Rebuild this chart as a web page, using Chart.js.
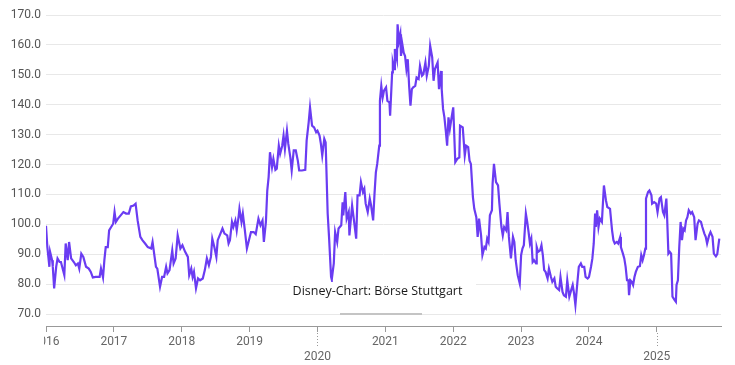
<!DOCTYPE html>
<html>
<head>
<meta charset="utf-8">
<script src="https://cdn.jsdelivr.net/npm/chart.js@4/dist/chart.umd.min.js"></script>
<style>
html,body{margin:0;padding:0;background:#fff;}
#wrap{width:735px;height:365px;}
</style>
</head>
<body>
<div id="wrap"><canvas id="c" width="735" height="365"></canvas></div>
<script>
// Decimal-year dates and prices (EUR)
const dates = [
2016.00,2016.02,2016.05,2016.06,2016.09,2016.10,2016.12,2016.15,2016.17,2016.20,2016.22,2016.27,2016.29,2016.32,2016.34,2016.37,2016.41,2016.44,2016.47,2016.49,2016.52,2016.55,2016.59,2016.63,2016.66,2016.69,2016.73,2016.79,2016.81,2016.84,2016.86,2016.88,2016.91,2016.93,2016.96,2016.99,
2017.01,2017.03,2017.06,2017.10,2017.14,2017.18,2017.22,2017.25,2017.29,2017.32,2017.35,2017.39,2017.42,2017.46,2017.50,2017.55,2017.57,2017.60,2017.62,2017.64,2017.68,2017.71,2017.74,2017.77,2017.79,2017.82,2017.86,2017.88,2017.91,2017.94,2017.98,
2018.01,2018.05,2018.09,2018.11,2018.14,2018.16,2018.18,2018.21,2018.24,2018.27,2018.31,2018.34,2018.37,2018.40,2018.43,2018.45,2018.48,2018.51,2018.53,2018.57,2018.60,2018.63,2018.67,2018.69,2018.71,2018.74,2018.76,2018.79,2018.81,2018.84,2018.85,2018.88,2018.90,2018.93,2018.96,2018.99,
2019.02,2019.06,2019.09,2019.13,2019.16,2019.19,2019.21,2019.24,2019.26,2019.28,2019.30,2019.33,2019.35,2019.38,2019.40,2019.43,2019.45,2019.48,2019.50,2019.52,2019.55,2019.57,2019.60,2019.62,2019.65,2019.68,2019.71,2019.73,2019.77,2019.82,2019.84,2019.87,2019.89,2019.92,2019.95,2019.98,
2020.00,2020.03,2020.05,2020.07,2020.10,2020.12,2020.15,2020.17,2020.20,2020.21,2020.24,2020.26,2020.29,2020.31,2020.35,2020.37,2020.38,2020.41,2020.43,2020.46,2020.47,2020.51,2020.54,2020.57,2020.59,2020.62,2020.64,2020.67,2020.69,2020.71,2020.74,2020.77,2020.79,2020.82,2020.84,2020.86,2020.88,2020.91,2020.92,2020.94,2020.96,2020.98,
2021.01,2021.03,2021.06,2021.07,2021.10,2021.11,2021.13,2021.14,2021.17,2021.18,2021.20,2021.22,2021.23,2021.25,2021.27,2021.29,2021.31,2021.33,2021.35,2021.37,2021.39,2021.41,2021.44,2021.46,2021.49,2021.51,2021.54,2021.56,2021.59,2021.61,2021.64,2021.66,2021.69,2021.71,2021.73,2021.77,2021.79,2021.82,2021.83,2021.85,2021.87,2021.89,2021.91,2021.93,2021.95,2021.98,
2022.00,2022.03,2022.06,2022.09,2022.10,2022.14,2022.17,2022.19,2022.22,2022.24,2022.26,2022.29,2022.31,2022.34,2022.36,2022.38,2022.41,2022.43,2022.46,2022.48,2022.50,2022.52,2022.54,2022.57,2022.58,2022.60,2022.63,2022.66,2022.68,2022.71,2022.73,2022.75,2022.78,2022.80,2022.82,2022.85,2022.88,2022.90,2022.92,2022.95,2022.98,
2023.00,2023.02,2023.04,2023.07,2023.09,2023.11,2023.13,2023.15,2023.17,2023.19,2023.22,2023.23,2023.25,2023.28,2023.30,2023.32,2023.34,2023.36,2023.39,2023.41,2023.44,2023.46,2023.49,2023.51,2023.53,2023.56,2023.58,2023.61,2023.63,2023.66,2023.68,2023.71,2023.73,2023.76,2023.78,2023.80,2023.83,2023.85,2023.88,2023.90,2023.93,2023.95,2023.98,
2024.00,2024.03,2024.05,2024.07,2024.09,2024.10,2024.12,2024.14,2024.16,2024.19,2024.22,2024.25,2024.27,2024.31,2024.34,2024.36,2024.38,2024.41,2024.43,2024.46,2024.47,2024.50,2024.52,2024.54,2024.56,2024.58,2024.59,2024.61,2024.63,2024.65,2024.67,2024.69,2024.72,2024.75,2024.77,2024.79,2024.81,2024.83,2024.84,2024.87,2024.89,2024.92,2024.93,2024.96,2024.99,
2025.01,2025.04,2025.06,2025.09,2025.11,2025.14,2025.15,2025.17,2025.19,2025.21,2025.23,2025.26,2025.28,2025.29,2025.31,2025.33,2025.35,2025.37,2025.39,2025.41,2025.43,2025.45,2025.47,2025.50,2025.52,2025.55,2025.57,2025.60,2025.62,2025.65,2025.67,2025.70,2025.72,2025.74,2025.77,2025.79,2025.82,2025.84,2025.87,2025.89,2025.92
];
const prices = [
99.5,92.4,85.8,90.8,88.0,85.8,78.6,85.8,88.6,87.4,87.4,83.0,93.6,88.0,94.1,88.6,87.4,86.3,86.9,85.2,90.2,89.1,85.8,85.2,84.1,82.2,82.4,82.4,85.2,82.2,88.0,92.4,92.4,98.0,99.1,100.2,
104.1,100.8,101.9,103.0,104.1,103.6,103.6,106.0,106.3,106.9,101.3,95.8,94.7,93.6,92.4,91.9,94.1,89.1,85.8,85.2,79.1,82.4,82.4,85.8,83.6,84.7,91.3,86.9,88.6,96.3,91.9,
93.0,90.8,89.1,83.0,85.2,82.4,84.1,78.6,81.9,81.3,81.9,84.7,88.6,86.3,89.1,95.2,92.4,89.1,94.7,96.9,98.6,96.9,96.3,93.6,94.7,100.8,99.1,101.3,98.0,103.0,105.2,100.8,103.6,98.0,91.9,94.7,
97.4,97.4,96.7,101.9,99.7,101.3,94.1,100.8,111.3,115.8,124.1,119.1,121.9,118.2,118.6,126.3,123.6,126.3,129.7,125.2,131.3,126.9,122.4,118.0,124.7,124.7,121.3,118.0,118.0,118.2,128.0,134.1,139.1,133.0,132.4,130.8,
131.3,129.7,126.9,123.0,128.6,127.4,103.6,95.8,82.4,81.5,86.9,97.4,94.1,98.6,99.7,107.4,103.0,110.8,101.9,104.1,96.3,106.3,100.8,95.2,109.7,109.7,114.1,110.8,111.9,106.9,104.1,108.6,106.3,101.3,110.2,117.4,120.2,126.3,141.3,146.3,142.4,144.7,
145.8,141.3,140.8,136.3,150.8,154.1,151.9,158.6,155.2,166.9,161.3,163.6,156.3,160.2,157.4,156.3,151.9,155.2,146.3,139.7,145.2,145.8,146.3,149.1,148.6,153.0,149.7,150.2,154.1,149.7,153.0,159.7,155.8,148.0,151.9,154.1,145.2,151.3,145.2,138.6,135.8,131.3,126.3,135.8,131.9,136.3,
139.1,120.8,121.9,122.4,133.0,132.4,123.0,126.3,125.8,121.3,120.2,109.1,105.2,102.4,95.8,101.9,96.3,89.7,92.4,91.9,95.2,94.1,103.0,104.7,113.6,120.2,114.1,113.0,106.9,99.1,96.3,99.1,98.0,104.1,95.8,88.6,95.8,94.1,88.0,83.0,80.2,
89.7,91.9,93.0,103.6,100.8,97.4,93.6,95.2,87.4,88.0,86.9,92.4,90.8,91.3,93.0,89.7,84.7,84.1,81.9,85.2,82.4,80.8,81.9,79.1,78.6,78.0,82.4,77.4,76.3,75.8,81.3,75.8,77.4,79.7,76.9,73.0,80.8,85.8,86.9,85.8,85.8,82.4,81.9,
82.4,85.8,88.6,93.6,103.6,99.1,104.7,99.1,101.9,100.8,113.0,108.0,105.8,105.2,98.0,94.7,93.6,94.1,93.6,95.8,92.4,90.2,88.6,85.8,81.3,81.3,76.3,81.3,80.8,79.7,82.4,84.1,85.8,86.0,89.7,88.0,89.7,91.9,108.6,110.8,111.3,109.7,106.9,107.4,106.9,
104.1,108.6,109.1,104.1,103.0,108.6,103.0,90.2,90.8,90.2,75.8,74.7,74.1,79.7,81.3,92.4,100.8,94.7,98.6,98.0,101.3,102.4,104.7,103.6,104.1,102.4,94.7,100.2,101.3,100.8,99.1,96.9,95.8,93.6,96.3,97.4,95.8,90.2,89.3,90.0,95.2
];
const yearTicks = [2016,2017,2018,2019,2020,2021,2022,2023,2024,2025];
const majorYears = [2020,2025];
const priceTicks = [70,80,90,100,110,120,130,140,150,160,170];
const chartTitle = 'Disney-Chart: Börse Stuttgart';

const overlay = {
  id: 'overlay',
  afterDraw(chart) {
    const ctx = chart.ctx;
    const xs = chart.scales.x;
    const ca = chart.chartArea;
    ctx.save();
    // clip the first year label just left of the plot edge
    ctx.fillStyle = '#fff';
    ctx.fillRect(0, ca.bottom + 2, ca.left - 2, chart.height - ca.bottom - 2);
    // dotted extension of major ticks
    ctx.strokeStyle = '#999';
    ctx.lineWidth = 1;
    ctx.setLineDash([1, 2]);
    majorYears.forEach(v => {
      const x = Math.round(xs.getPixelForValue(v)) + 0.5;
      ctx.beginPath();
      ctx.moveTo(x, ca.bottom + 7);
      ctx.lineTo(x, ca.bottom + 20);
      ctx.stroke();
    });
    ctx.setLineDash([]);
    // caption with white background
    ctx.fillStyle = '#fff';
    ctx.fillRect(290, 282, 186, 19);
    ctx.fillStyle = '#1a1a1a';
    ctx.font = '12.5px "Open Sans", "Noto Sans", sans-serif';
    ctx.textAlign = 'center';
    ctx.textBaseline = 'middle';
    ctx.fillText(chartTitle, 377.5, 291);
    // small grey bar
    ctx.fillStyle = '#c4c4c4';
    ctx.fillRect(340, 313, 82, 2);
    ctx.restore();
  }
};

new Chart(document.getElementById('c'), {
  type: 'line',
  data: {
    datasets: [{
      data: dates.map((d, i) => ({x: d, y: prices[i]})),
      borderColor: '#6a3cf2',
      borderWidth: 2.2,
      pointRadius: 0,
      tension: 0,
      fill: false
    }]
  },
  options: {
    responsive: false,
    animation: false,
    layout: {padding: {top: 15, right: 14, left: 0, bottom: 0}},
    plugins: {legend: {display: false}, tooltip: {enabled: false}},
    scales: {
      x: {
        type: 'linear',
        min: 2016,
        max: 2025.945,
        afterBuildTicks: s => { s.ticks = yearTicks.map(v => ({value: v})); },
        afterFit: s => { s.height = 39; },
        grid: {drawOnChartArea: false, drawTicks: true, tickLength: 6, color: '#999'},
        border: {color: '#999', width: 1},
        ticks: {
          color: '#666',
          font: {family: 'Roboto', size: 12, lineHeight: 1.25},
          padding: 2,
          maxRotation: 0,
          autoSkip: false,
          callback: v => majorYears.includes(v) ? ['', String(v)] : String(v)
        }
      },
      y: {
        min: 66,
        max: 170,
        afterBuildTicks: s => { s.ticks = priceTicks.map(v => ({value: v})); },
        afterFit: s => { s.width = 46; },
        grid: {color: '#e8e8e8', drawTicks: false},
        border: {display: false},
        ticks: {
          color: '#555',
          font: {family: 'Roboto', size: 12},
          padding: 5,
          callback: v => Number(v).toFixed(1)
        }
      }
    }
  },
  plugins: [overlay]
});
</script>
</body>
</html>
